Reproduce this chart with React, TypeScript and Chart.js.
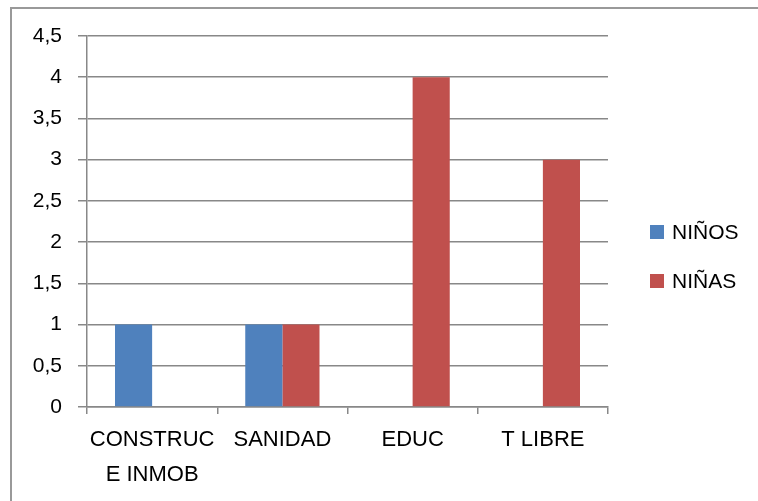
import React, { useEffect, useRef } from 'react';
import { Chart, registerables } from 'chart.js';

Chart.register(...registerables);

const categories: (string | string[])[] = [['CONSTRUC', 'E INMOB'], 'SANIDAD', 'EDUC', 'T LIBRE'];
const seriesNames = ['NIÑOS', 'NIÑAS'];
const ninos = [1, 1, 0, 0];
const ninas = [0, 1, 4, 3];
const yTickLabels = ['0', '0,5', '1', '1,5', '2', '2,5', '3', '3,5', '4', '4,5'];
const seriesColors = ['#4F81BD', '#C0504D'];

const FONT = "'Liberation Sans', Arial, sans-serif";
const GRID = '#888888';

const sideLegend = {
  id: 'sideLegend',
  afterDraw(chart: any) {
    const ctx = chart.ctx;
    const area = chart.chartArea;
    const x = area.right + 42;
    const cy = chart.height / 2 + 6;
    const gap = 49;
    ctx.save();
    ctx.font = `21px ${FONT}`;
    ctx.textBaseline = 'middle';
    ctx.textAlign = 'left';
    chart.data.datasets.forEach((ds: any, i: number) => {
      const y = cy + (i - (chart.data.datasets.length - 1) / 2) * gap;
      ctx.fillStyle = ds.backgroundColor;
      ctx.fillRect(x, y - 7, 14, 14);
      ctx.fillStyle = '#000';
      ctx.fillText(ds.label, x + 22, y + 1);
    });
    ctx.restore();
  },
};

export default function App() {
  const ref = useRef<HTMLCanvasElement | null>(null);

  useEffect(() => {
    if (!ref.current) return;
    const chart = new Chart(ref.current, {
      type: 'bar',
      data: {
        labels: categories,
        datasets: [
          { label: seriesNames[0], data: ninos, backgroundColor: seriesColors[0], borderWidth: 0 },
          { label: seriesNames[1], data: ninas, backgroundColor: seriesColors[1], borderWidth: 0 },
        ],
      },
      options: {
        animation: false,
        responsive: true,
        maintainAspectRatio: false,
        layout: { padding: { top: 36, right: 150, left: 0, bottom: 0 } },
        datasets: { bar: { categoryPercentage: 0.57, barPercentage: 1 } },
        plugins: {
          legend: { display: false },
          tooltip: { enabled: false },
        },
        scales: {
          x: {
            offset: true,
            grid: {
              offset: true,
              drawOnChartArea: false,
              drawTicks: true,
              tickLength: 7,
              color: GRID,
              lineWidth: 1.5,
            },
            border: { display: true, color: GRID, width: 1.5 },
            ticks: {
              color: '#000',
              padding: 8,
              maxRotation: 0,
              autoSkip: false,
              font: { family: FONT, size: 22, lineHeight: 1.6 },
            },
            afterFit(scale: any) {
              scale.height = 94;
            },
          },
          y: {
            min: 0,
            max: 4.5,
            ticks: {
              stepSize: 0.5,
              color: '#000',
              padding: 16,
              font: { family: FONT, size: 21 },
              callback: (_v: any, i: number) => yTickLabels[i],
            },
            grid: { color: GRID, lineWidth: 1.5, tickLength: 9, drawTicks: true },
            border: { display: true, color: GRID, width: 1.5 },
            afterFit(scale: any) {
              scale.width = 87;
            },
          },
        },
      },
      plugins: [sideLegend],
    });
    return () => chart.destroy();
  }, []);

  return (
    <div style={{ position: 'fixed', left: 0, top: 0, width: 758, height: 501, background: '#fff' }}>
      <div
        style={{
          position: 'absolute',
          left: 10,
          top: 7,
          width: 760,
          height: 510,
          borderLeft: '2px solid #999',
          borderTop: '2px solid #999',
          boxSizing: 'border-box',
        }}
      />
      <div style={{ position: 'absolute', left: 0, top: 0, width: 758, height: 501 }}>
        <canvas ref={ref} />
      </div>
    </div>
  );
}
